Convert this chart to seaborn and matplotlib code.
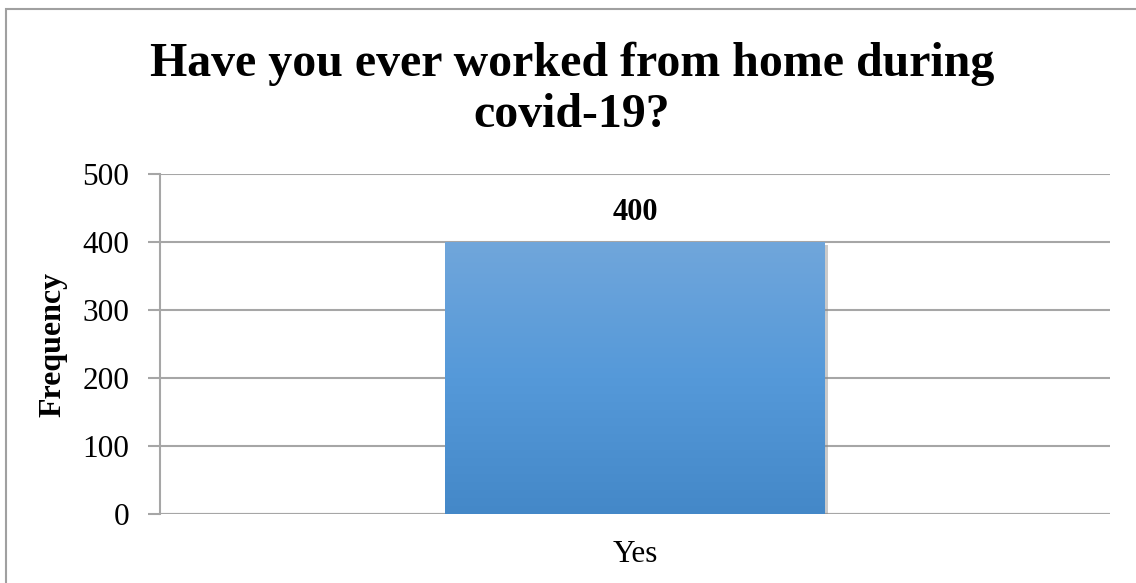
import numpy as np
import pandas as pd
import matplotlib
matplotlib.use("Agg")
import matplotlib.pyplot as plt
import matplotlib.patheffects as pe
from matplotlib.colors import LinearSegmentedColormap
from matplotlib.patches import Rectangle
import seaborn as sns

# data
answers = ["Yes"]
frequency = [400]
y_ticks = [0, 100, 200, 300, 400, 500]
title = "Have you ever worked from home during\ncovid-19?"

sns.set_theme(style="white")
plt.rcParams["font.family"] = ["Liberation Serif", "DejaVu Serif"]

df = pd.DataFrame({"answer": answers, "frequency": frequency})

fig = plt.figure(figsize=(11.36, 5.83), dpi=100)
ax = fig.add_axes([160 / 1136, 1 - 514 / 583, 950 / 1136, 340 / 583])

sns.barplot(data=df, x="answer", y="frequency", color="#5599d9", width=0.4, ax=ax, zorder=3)

# gradient fill on the bar, like the office chart
grad = LinearSegmentedColormap.from_list("bluegrad", ["#4488c8", "#5599d9", "#70a6db"])
for bar in ax.patches:
    x0, y0 = bar.get_x(), bar.get_y()
    w, h = bar.get_width(), bar.get_height()
    bar.set_edgecolor("none")
    bar.set_path_effects([pe.SimplePatchShadow(offset=(2, -2), alpha=0.45, shadow_rgbFace="#8a8a8a"), pe.Normal()])
    img = ax.imshow(np.linspace(0, 1, 256).reshape(-1, 1), cmap=grad, origin="lower",
                    extent=[x0, x0 + w, y0, y0 + h], aspect="auto", zorder=4)
    img.set_clip_path(bar)
    ax.text(x0 + w / 2, y0 + h + 22, f"{h:.0f}", ha="center", va="bottom",
            fontsize=22, fontweight="bold", color="black")

ax.set_xlim(-0.5, 0.5)
ax.set_ylim(0, 500)
ax.set_yticks(y_ticks)
ax.yaxis.grid(True, color="#a6a6a6", linewidth=1.5, zorder=0)
ax.set_axisbelow(True)

for side in ["top", "right", "bottom"]:
    ax.spines[side].set_visible(False)
ax.spines["left"].set_color("#a6a6a6")
ax.spines["left"].set_linewidth(1.5)
ax.axhline(0, color="#a6a6a6", linewidth=1.5, zorder=2)

ax.tick_params(axis="y", which="major", direction="out", length=9, width=1.5,
               color="#a6a6a6", labelsize=22.5, pad=13, left=True)
ax.tick_params(axis="x", length=0, labelsize=22.5, pad=19)
for lbl in ax.get_xticklabels() + ax.get_yticklabels():
    lbl.set_color("black")

ax.set_xlabel("")
ax.set_ylabel("Frequency", fontsize=23, fontweight="bold", color="black", labelpad=11)

fig.text(572 / 1136, 1 - 127 / 583, title, ha="center", va="baseline", fontsize=34.5,
         fontweight="bold", linespacing=1.22, color="black")

# outer chart frame
fig.patches.append(Rectangle((6 / 1136, -0.1), 1.2, 1 - 9 / 583 + 0.1, transform=fig.transFigure,
                             fill=False, edgecolor="#a0a0a0", linewidth=1.5))

fig.savefig("out.png", dpi=100)
